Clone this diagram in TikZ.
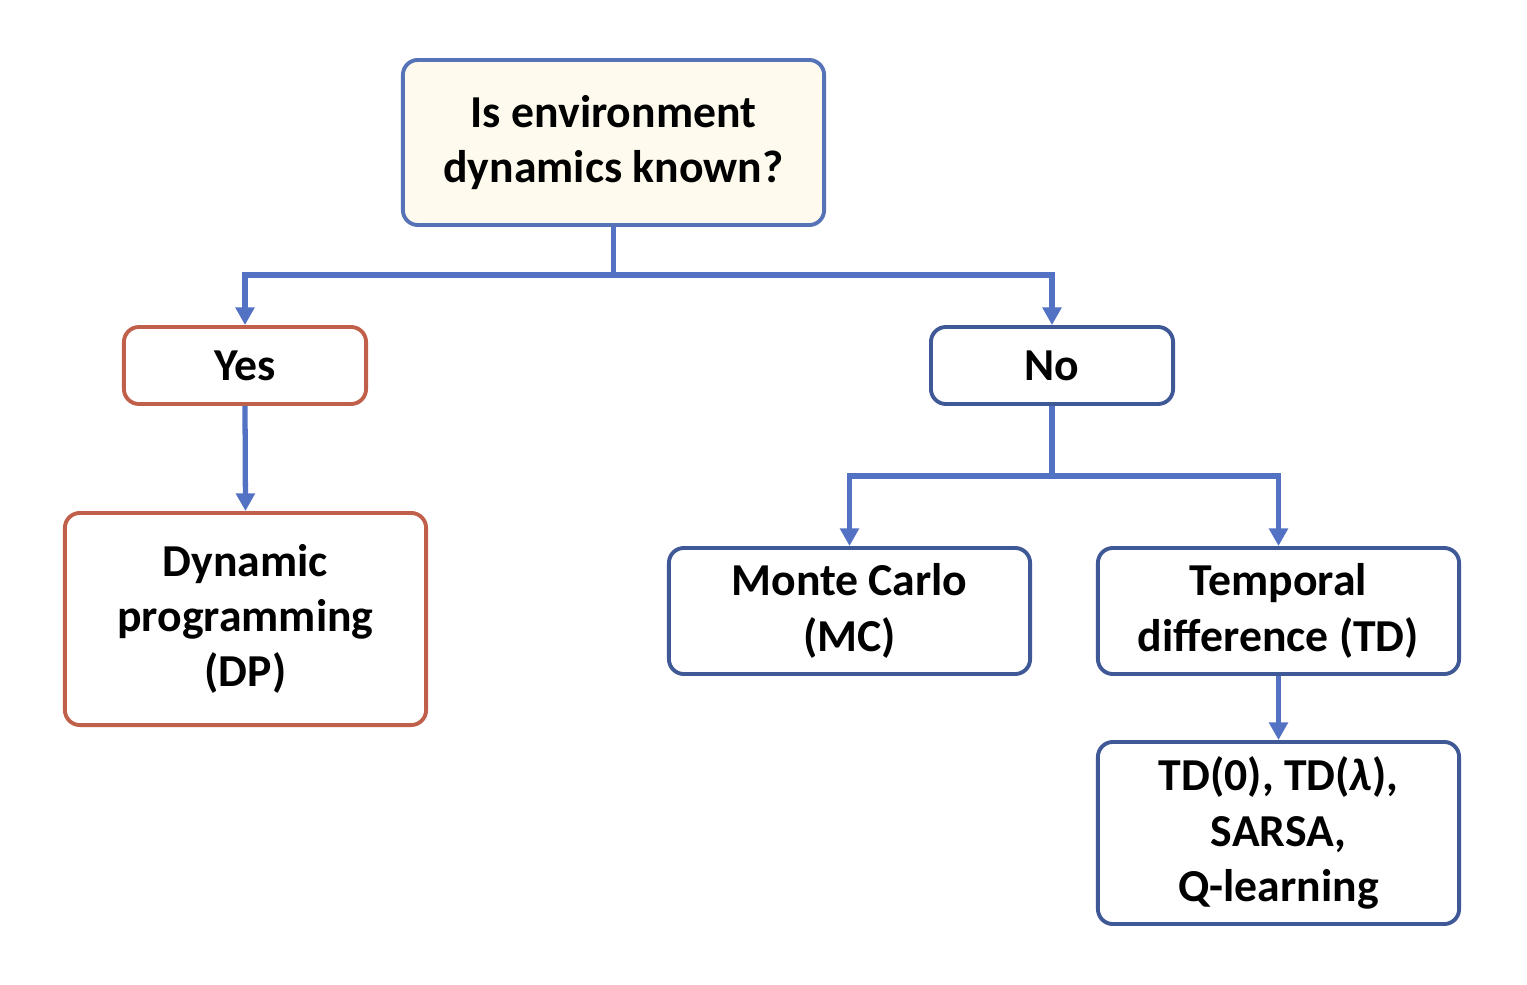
\documentclass[tikz,border=0pt]{standalone}
\usepackage{fontspec}
\setmainfont{Carlito}
\usetikzlibrary{arrows.meta}
\definecolor{connblue}{HTML}{5472C4}
\definecolor{topborder}{HTML}{5673B8}
\definecolor{topfill}{HTML}{FEFBEE}
\definecolor{darkblue}{HTML}{3F5896}
\definecolor{redbord}{HTML}{C0604A}
\tikzset{
  box/.style={draw, line width=1.1pt, rounded corners=0.15cm, align=center,
    font=\fontsize{13}{15.7}\selectfont\bfseries, inner sep=0pt},
  topbox/.style={box, draw=topborder, fill=topfill},
  redbox/.style={box, draw=redbord, fill=white},
  bluebox/.style={box, draw=darkblue, fill=white},
  conn/.style={draw=connblue, line width=1.5pt},
  arr/.style={conn, -{Triangle[length=5pt,width=5.2pt]}},
}
\begin{document}
\begin{tikzpicture}[x=0.01cm,y=-0.01cm]
\useasboundingbox (0,0) rectangle (1527,985);
\node[topbox, minimum width=4.21cm, minimum height=1.65cm] (top) at (613.5,142.5) {Is environment\\dynamics known?};
\node[redbox, minimum width=2.42cm, minimum height=0.77cm] (yes) at (245,365.5) {Yes};
\node[bluebox, minimum width=2.42cm, minimum height=0.77cm] (no) at (1052,365.5) {No};
\node[redbox, minimum width=3.61cm, minimum height=2.12cm] (dp) at (245.5,619) {Dynamic\\programming\\(DP)};
\node[bluebox, minimum width=3.61cm, minimum height=1.26cm] (mc) at (849.5,611) {Monte Carlo\\(MC)};
\node[bluebox, minimum width=3.61cm, minimum height=1.26cm] (td) at (1278.5,611) {Temporal\\difference (TD)};
\node[bluebox, minimum width=3.61cm, minimum height=1.82cm] (list) at (1278.5,833) {TD(0), TD({\itshape λ}),\\SARSA,\\Q-learning};
\coordinate (j1) at (613.5,275);
\coordinate (j2) at (1052,476);
\draw[conn] (top.south) -- (j1);
\draw[arr] (j1) -| (yes.north);
\draw[arr] (j1) -| (no.north);
\draw[arr] (yes.south) -- (dp.north);
\draw[conn] (no.south) -- (j2);
\draw[arr] (j2) -| (mc.north);
\draw[arr] (j2) -| (td.north);
\draw[arr] (td.south) -- (list.north);
\end{tikzpicture}
\end{document}
